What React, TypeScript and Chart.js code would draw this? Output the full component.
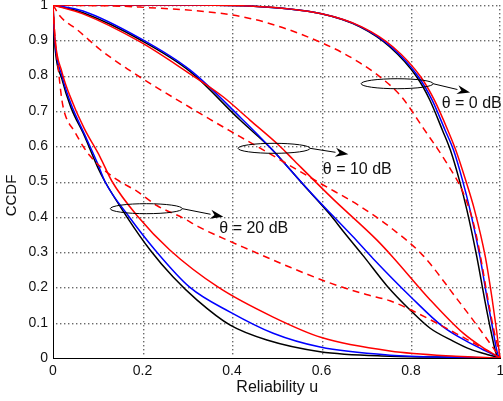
import React, { useEffect, useRef } from 'react';
import { Chart, registerables } from 'chart.js';

Chart.register(...registerables);

// ---- tick labels ----
const xTickLabels = ['0', '0.2', '0.4', '0.6', '0.8', '1'];
const yTickLabels = ['0', '0.1', '0.2', '0.3', '0.4', '0.5', '0.6', '0.7', '0.8', '0.9', '1'];

// ---- theta = 0 dB ----
const theta0SolidCcdf = [1, 1, 0.997, 0.975, 0.938, 0.881, 0.796, 0.731, 0.646, 0.589, 0.504, 0.419, 0.287, 0.17, 0.08, 0.01, 0];
const theta0BlackU = [0, 0.3, 0.44, 0.6, 0.686, 0.753, 0.813, 0.842, 0.87, 0.888, 0.908, 0.925, 0.947, 0.964, 0.978, 0.991, 1];
const theta0BlueU = [0, 0.3, 0.44, 0.6, 0.688, 0.756, 0.817, 0.847, 0.876, 0.895, 0.915, 0.932, 0.954, 0.97, 0.983, 0.994, 1];
const theta0RedU = [0, 0.3, 0.44, 0.6, 0.69, 0.76, 0.822, 0.852, 0.882, 0.9, 0.922, 0.942, 0.966, 0.981, 0.991, 0.998, 1];
const theta0DashedU = [0, 0.194, 0.44, 0.597, 0.686, 0.753, 0.782, 0.827, 0.88, 0.917, 0.94, 0.955, 0.97, 0.985, 1];
const theta0DashedCcdf = [1, 0.994, 0.962, 0.895, 0.836, 0.773, 0.735, 0.652, 0.552, 0.467, 0.38, 0.29, 0.18, 0.08, 0];

// ---- theta = 10 dB ----
const theta10BlackU = [0, 0.067, 0.2, 0.306, 0.418, 0.49, 0.56, 0.62, 0.648, 0.693, 0.746, 0.798, 0.842, 0.894, 0.932, 0.97, 1];
const theta10BlackCcdf = [1, 0.978, 0.898, 0.812, 0.674, 0.59, 0.49, 0.405, 0.36, 0.29, 0.205, 0.136, 0.085, 0.048, 0.025, 0.01, 0];
const theta10BlueU = [0, 0.067, 0.194, 0.306, 0.42, 0.49, 0.507, 0.581, 0.67, 0.715, 0.798, 0.872, 0.932, 0.97, 1];
const theta10BlueCcdf = [1, 0.983, 0.906, 0.816, 0.68, 0.59, 0.566, 0.462, 0.344, 0.282, 0.175, 0.088, 0.042, 0.018, 0];
const theta10RedU = [0, 0.067, 0.194, 0.3, 0.38, 0.44, 0.507, 0.536, 0.626, 0.724, 0.76, 0.842, 0.916, 0.96, 1];
const theta10RedCcdf = [1, 0.975, 0.896, 0.81, 0.74, 0.674, 0.6, 0.563, 0.45, 0.334, 0.285, 0.166, 0.071, 0.03, 0];
const theta10DashedU = [0, 0.016, 0.054, 0.105, 0.165, 0.232, 0.29, 0.351, 0.418, 0.5, 0.597, 0.686, 0.76, 0.827, 0.9, 0.95, 1];
const theta10DashedCcdf = [1, 0.968, 0.93, 0.874, 0.82, 0.766, 0.722, 0.676, 0.627, 0.567, 0.495, 0.43, 0.364, 0.29, 0.172, 0.088, 0];

// ---- theta = 20 dB ----
const theta20BlackU = [0, 0.004, 0.02, 0.04, 0.07, 0.1, 0.116, 0.165, 0.217, 0.268, 0.322, 0.396, 0.478, 0.597, 0.753, 0.9, 1];
const theta20BlackCcdf = [1, 0.89, 0.79, 0.71, 0.63, 0.54, 0.5, 0.4, 0.306, 0.23, 0.164, 0.093, 0.051, 0.018, 0.005, 0.002, 0];
const theta20BlueU = [0, 0.004, 0.02, 0.04, 0.07, 0.1, 0.116, 0.17, 0.228, 0.306, 0.396, 0.492, 0.597, 0.753, 0.9, 1];
const theta20BlueCcdf = [1, 0.9, 0.8, 0.72, 0.635, 0.55, 0.5, 0.4, 0.306, 0.2, 0.13, 0.07, 0.031, 0.008, 0.002, 0];
const theta20RedU = [0, 0.004, 0.02, 0.045, 0.07, 0.105, 0.132, 0.19, 0.261, 0.37, 0.492, 0.6, 0.753, 0.9, 1];
const theta20RedCcdf = [1, 0.91, 0.81, 0.72, 0.65, 0.57, 0.5, 0.4, 0.306, 0.2, 0.116, 0.058, 0.02, 0.005, 0];
const theta20DashedU = [0, 0.005, 0.01, 0.02, 0.027, 0.049, 0.067, 0.083, 0.105, 0.143, 0.188, 0.232, 0.29, 0.328, 0.389, 0.44, 0.53, 0.62, 0.7, 0.753, 0.8, 0.9, 1];
const theta20DashedCcdf = [1, 0.9, 0.84, 0.73, 0.69, 0.64, 0.6, 0.572, 0.543, 0.505, 0.472, 0.432, 0.397, 0.37, 0.334, 0.306, 0.257, 0.212, 0.18, 0.162, 0.136, 0.07, 0];

// ---- annotations (data coordinates) ----
const annotationText = ['θ = 0 dB', 'θ = 10 dB', 'θ = 20 dB'];
const ellipseCenterU = [0.769, 0.494, 0.2085];
const ellipseCenterCcdf = [0.777, 0.594, 0.423];
const arrowTipU = [0.932, 0.66, 0.3806];
const arrowTipCcdf = [0.752, 0.577, 0.4];
const labelU = [0.9356, 0.68, 0.4487];
const labelCcdf = [0.721, 0.535, 0.367];

const xTitle = 'Reliability u';
const yTitle = 'CCDF';

const FONT = '"Liberation Sans", Arial, Helvetica, sans-serif';

function pts(us: number[], ys: number[]) {
  return us.map((u, i) => ({ x: u, y: ys[i] }));
}

function line(data: { x: number; y: number }[], color: string, dashed = false) {
  return {
    data,
    borderColor: color,
    backgroundColor: color,
    borderWidth: 1.5,
    borderDash: dashed ? [7, 5] : [],
    pointRadius: 0,
    fill: false,
    cubicInterpolationMode: 'monotone' as const,
  };
}

function drawDottedGrid(chart: any) {
  const ctx = chart.ctx as CanvasRenderingContext2D;
  const area = chart.chartArea;
  const xs = chart.scales.x;
  const ys = chart.scales.y;
  ctx.save();
  ctx.fillStyle = '#6a6a6a';
  const step = 4;
  const xVals = xTickLabels.map(Number);
  const yVals = yTickLabels.map(Number);
  for (const v of xVals) {
    let px = Math.round(xs.getPixelForValue(v));
    if (v === 0) continue;
    px = Math.min(px, Math.floor(area.right) - 1);
    for (let py = Math.round(area.top); py < area.bottom - 1; py += step) {
      ctx.fillRect(px, py, 1.4, 1.4);
    }
  }
  for (const v of yVals) {
    if (v === 0) continue;
    const py = Math.round(ys.getPixelForValue(v));
    for (let px = Math.round(area.left) + 3; px < area.right - 1; px += step) {
      ctx.fillRect(px, py, 1.4, 1.4);
    }
  }
  ctx.restore();
}

const annotationPlugin = {
  id: 'annotationPlugin',
  beforeDatasetsDraw(chart: any) {
    drawDottedGrid(chart);
  },
  afterDatasetsDraw(chart: any) {
    const ctx = chart.ctx as CanvasRenderingContext2D;
    const xs = chart.scales.x;
    const ys = chart.scales.y;
    ctx.save();
    for (let i = 0; i < annotationText.length; i++) {
      const cx = xs.getPixelForValue(ellipseCenterU[i]);
      const cy = ys.getPixelForValue(ellipseCenterCcdf[i]);
      const rx = 36;
      const ry = 5;
      ctx.beginPath();
      ctx.ellipse(cx, cy, rx, ry, 0, 0, Math.PI * 2);
      ctx.strokeStyle = '#000';
      ctx.lineWidth = 1;
      ctx.setLineDash([]);
      ctx.stroke();
      // arrow
      const sx = cx + rx;
      const sy = cy;
      const tx = xs.getPixelForValue(arrowTipU[i]);
      const ty = ys.getPixelForValue(arrowTipCcdf[i]);
      const ang = Math.atan2(ty - sy, tx - sx);
      const headLen = 13;
      const headHalf = 4.5;
      const bx = tx - headLen * Math.cos(ang);
      const by = ty - headLen * Math.sin(ang);
      ctx.beginPath();
      ctx.moveTo(sx, sy);
      ctx.lineTo(bx, by);
      ctx.stroke();
      ctx.beginPath();
      ctx.moveTo(tx, ty);
      ctx.lineTo(bx - headHalf * Math.sin(ang), by + headHalf * Math.cos(ang));
      ctx.lineTo(tx - (headLen - 4) * Math.cos(ang), ty - (headLen - 4) * Math.sin(ang));
      ctx.lineTo(bx + headHalf * Math.sin(ang), by - headHalf * Math.cos(ang));
      ctx.closePath();
      ctx.fillStyle = '#000';
      ctx.fill();
      // label
      ctx.font = `16px ${FONT}`;
      ctx.fillStyle = '#111';
      ctx.textAlign = 'center';
      ctx.textBaseline = 'middle';
      ctx.fillText(annotationText[i], xs.getPixelForValue(labelU[i]), ys.getPixelForValue(labelCcdf[i]));
    }
    // axis titles
    const area = chart.chartArea;
    ctx.fillStyle = '#111';
    ctx.textAlign = 'center';
    ctx.textBaseline = 'middle';
    ctx.font = `16px ${FONT}`;
    ctx.fillText(xTitle, (area.left + area.right) / 2 + 0.5, area.bottom + 30);
    ctx.save();
    ctx.translate(12, (area.top + area.bottom) / 2 + 14);
    ctx.rotate(-Math.PI / 2);
    ctx.font = `15px ${FONT}`;
    ctx.fillText(yTitle, 0, 0);
    ctx.restore();
    ctx.restore();
  },
};

export default function App() {
  const canvasRef = useRef<HTMLCanvasElement | null>(null);

  useEffect(() => {
    const canvas = canvasRef.current;
    if (!canvas) return;
    const datasets = [
      line(pts(theta0DashedU, theta0DashedCcdf), '#ff0000', true),
      line(pts(theta10DashedU, theta10DashedCcdf), '#ff0000', true),
      line(pts(theta20DashedU, theta20DashedCcdf), '#ff0000', true),
      line(pts(theta0RedU, theta0SolidCcdf), '#ff0000'),
      line(pts(theta10RedU, theta10RedCcdf), '#ff0000'),
      line(pts(theta20RedU, theta20RedCcdf), '#ff0000'),
      line(pts(theta0BlueU, theta0SolidCcdf), '#0000ff'),
      line(pts(theta10BlueU, theta10BlueCcdf), '#0000ff'),
      line(pts(theta20BlueU, theta20BlueCcdf), '#0000ff'),
      line(pts(theta0BlackU, theta0SolidCcdf), '#000000'),
      line(pts(theta10BlackU, theta10BlackCcdf), '#000000'),
      line(pts(theta20BlackU, theta20BlackCcdf), '#000000'),
    ];
    const chart = new Chart(canvas, {
      type: 'line',
      data: { datasets },
      options: {
        animation: false,
        responsive: false,
        maintainAspectRatio: false,
        parsing: false as any,
        layout: { padding: { left: 0, right: 2.5, top: 5, bottom: 0 } },
        plugins: {
          legend: { display: false },
          tooltip: { enabled: false },
          title: { display: false },
        },
        scales: {
          x: {
            type: 'linear',
            min: 0,
            max: 1,
            grid: { display: false, drawTicks: false },
            border: { display: true, color: '#000', width: 1 },
            ticks: {
              stepSize: 0.2,
              padding: 5,
              color: '#111',
              font: { family: FONT, size: 14 },
              maxRotation: 0,
              autoSkip: false,
              callback: (_v: any, i: number) => xTickLabels[i],
            },
            afterFit: (s: any) => {
              s.height = 43;
              s.paddingLeft = 0;
              s.paddingRight = 0;
            },
          },
          y: {
            type: 'linear',
            min: 0,
            max: 1,
            grid: { display: false, drawTicks: false },
            border: { display: true, color: '#000', width: 1 },
            ticks: {
              stepSize: 0.1,
              padding: 5,
              color: '#111',
              font: { family: FONT, size: 14 },
              autoSkip: false,
              callback: (_v: any, i: number) => yTickLabels[i],
            },
            afterFit: (s: any) => {
              s.width = 53;
              s.paddingTop = 0;
              s.paddingBottom = 0;
            },
          },
        },
      },
      plugins: [annotationPlugin],
    });
    return () => chart.destroy();
  }, []);

  return (
    <div style={{ position: 'fixed', left: 0, top: 0, width: 503, height: 401, background: '#fff' }}>
      <canvas ref={canvasRef} width={503} height={401} style={{ width: 503, height: 401, display: 'block' }} />
    </div>
  );
}
